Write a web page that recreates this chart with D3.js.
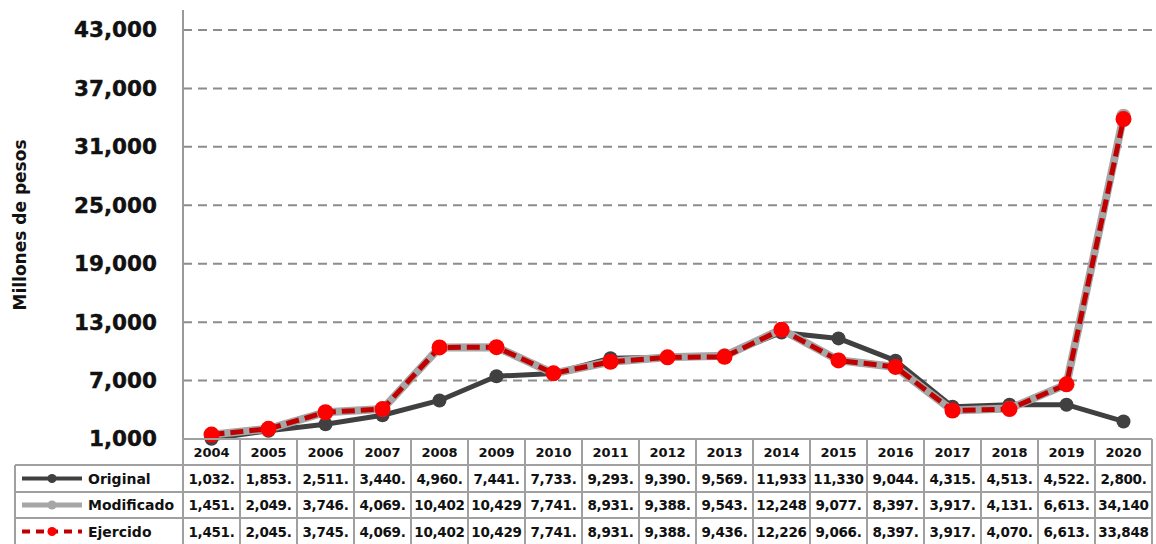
<!DOCTYPE html>
<html>
<head>
<meta charset="utf-8">
<script src="https://cdn.jsdelivr.net/npm/d3@7"></script>
<style>
  body { margin: 0; background: #fff; }
  text { font-family: "DejaVu Sans", sans-serif; font-weight: bold; fill: #111; }
</style>
</head>
<body>
<svg id="chart"></svg>
<script>
var width = 1156;
var height = 544;

var years = ["2004", "2005", "2006", "2007", "2008", "2009", "2010", "2011", "2012",
  "2013", "2014", "2015", "2016", "2017", "2018", "2019", "2020"];
var original = [1032, 1853, 2511, 3440, 4960, 7441, 7733, 9293, 9390, 9569,
  11933, 11330, 9044, 4315, 4513, 4522, 2800];
var modificado = [1451, 2049, 3746, 4069, 10402, 10429, 7741, 8931, 9388, 9543,
  12248, 9077, 8397, 3917, 4131, 6613, 34140];
var ejercido = [1451, 2045, 3745, 4069, 10402, 10429, 7741, 8931, 9388, 9436,
  12226, 9066, 8397, 3917, 4070, 6613, 33848];
var yTicks = [1000, 7000, 13000, 19000, 25000, 31000, 37000, 43000];

var series = [
  { name: "Original", values: original, color: "#404040", width: 5, dash: null, dot: "#404040", r: 7 },
  { name: "Modificado", values: modificado, color: "#a6a6a6", width: 8, dash: null, dot: "#a6a6a6", r: 7.5 },
  { name: "Ejercido", values: ejercido, color: "#c00000", width: 5, dash: "13,6", dot: "#ff0000", r: 8 }
];

var plotLeft = 183, plotRight = 1152, plotTop = 30, plotBottom = 439;
var rowTops = [439, 465, 492, 518, 545];

var svg = d3.select("#chart").attr("width", width).attr("height", height);

var x = d3.scaleBand().domain(years).range([plotLeft, plotRight]);
var y = d3.scaleLinear().domain([1000, 43000]).range([plotBottom, plotTop]);

// gridlines
svg.append("g")
  .selectAll("line")
  .data(yTicks.slice(1))
  .enter()
  .append("line")
  .attr("x1", plotLeft)
  .attr("x2", plotRight)
  .attr("y1", function (d) { return y(d); })
  .attr("y2", function (d) { return y(d); })
  .style("stroke", "#8c8c8c")
  .style("stroke-width", 2)
  .style("stroke-dasharray", "9,6");

// y axis
var yAxis = d3.axisLeft(y).tickValues(yTicks).tickFormat(d3.format(",")).tickSize(0).tickPadding(26);
var ga = svg.append("g").attr("transform", "translate(" + plotLeft + ",0)").call(yAxis);
ga.select(".domain").remove();
ga.selectAll("text")
  .style("font-size", "21.5px")
  .style("font-family", "'DejaVu Sans', sans-serif")
  .style("font-weight", "bold")
  .style("stroke", "#111")
  .style("stroke-width", 0.4)
  .attr("fill", "#111");

svg.append("line")
  .attr("x1", plotLeft).attr("x2", plotLeft)
  .attr("y1", 10).attr("y2", plotBottom)
  .style("stroke", "#999")
  .style("stroke-width", 2);

svg.append("text")
  .attr("transform", "translate(26,225)rotate(-90)")
  .attr("text-anchor", "middle")
  .style("font-size", "17px")
  .text("Millones de pesos");

// lines
var cx = function (d, i) { return x(years[i]) + x.bandwidth() / 2; };
var line = d3.line().x(cx).y(function (d) { return y(d); });

series.forEach(function (s) {
  var g = svg.append("g");
  g.append("path")
    .datum(s.values)
    .attr("d", line)
    .style("fill", "none")
    .style("stroke", s.color)
    .style("stroke-width", s.width)
    .style("stroke-linejoin", "round")
    .style("stroke-dasharray", s.dash);
  g.selectAll("circle")
    .data(s.values)
    .enter()
    .append("circle")
    .attr("cx", cx)
    .attr("cy", function (d) { return y(d); })
    .attr("r", s.r)
    .style("fill", s.dot);
});

// data table
var grid = svg.append("g").style("stroke", "#a0a0a0").style("stroke-width", 2);
years.forEach(function (yr) {
  grid.append("line")
    .attr("x1", x(yr)).attr("x2", x(yr))
    .attr("y1", rowTops[0]).attr("y2", rowTops[4]);
});
grid.append("line")
  .attr("x1", plotRight).attr("x2", plotRight)
  .attr("y1", rowTops[0]).attr("y2", rowTops[4]);
grid.append("line")
  .attr("x1", 15).attr("x2", 15)
  .attr("y1", rowTops[1]).attr("y2", rowTops[4]);
[1, 2, 3].forEach(function (k) {
  grid.append("line")
    .attr("x1", 15).attr("x2", plotRight)
    .attr("y1", rowTops[k]).attr("y2", rowTops[k]);
});
grid.append("line")
  .attr("x1", plotLeft).attr("x2", plotRight)
  .attr("y1", rowTops[0]).attr("y2", rowTops[0]);

svg.append("g")
  .selectAll("text")
  .data(years)
  .enter()
  .append("text")
  .attr("x", function (d) { return x(d) + x.bandwidth() / 2; })
  .attr("y", (rowTops[0] + rowTops[1]) / 2 + 5)
  .attr("text-anchor", "middle")
  .style("font-size", "13px")
  .text(function (d) { return d; });

function cellLabel(v) {
  var s = d3.format(",")(Math.floor(v));
  return s.length < 6 ? s + "." : s;
}

series.forEach(function (s, k) {
  var yMid = (rowTops[k + 1] + rowTops[k + 2]) / 2;
  var lg = svg.append("g");
  lg.append("line")
    .attr("x1", 22).attr("x2", 82)
    .attr("y1", yMid).attr("y2", yMid)
    .style("stroke", s.color)
    .style("stroke-width", s.name === "Modificado" ? 5 : 4)
    .style("stroke-dasharray", s.dash ? "8,6" : null);
  lg.append("circle")
    .attr("cx", 52).attr("cy", yMid).attr("r", 4.5)
    .style("fill", s.dot);
  lg.append("text")
    .attr("x", 88).attr("y", yMid + 5)
    .style("font-size", "14px")
    .text(s.name);
  lg.selectAll(".val")
    .data(s.values)
    .enter()
    .append("text")
    .attr("class", "val")
    .attr("x", cx)
    .attr("y", yMid + 5)
    .attr("text-anchor", "middle")
    .style("font-size", "13.5px")
    .style("letter-spacing", "-0.3px")
    .text(cellLabel);
});
</script>
</body>
</html>
